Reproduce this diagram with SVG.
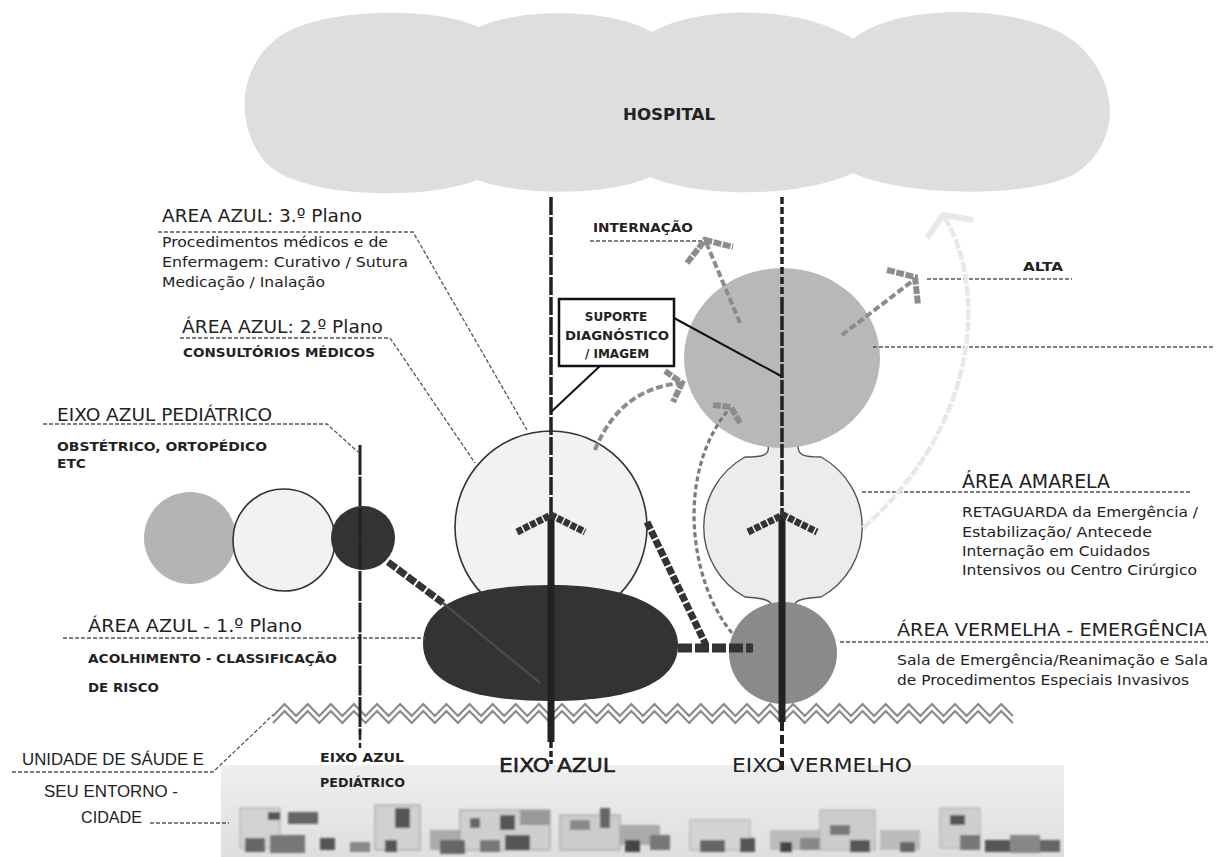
<svg xmlns="http://www.w3.org/2000/svg" width="1224" height="857" viewBox="0 0 1224 857">
<style>
.t{font-family:"DejaVu Sans","Liberation Sans",sans-serif;fill:#222}
.h{font-size:18px}
.s{font-size:13.5px}
.b{font-size:12px;font-weight:bold}
.nar{font-family:"Liberation Sans","DejaVu Sans",sans-serif;fill:#222;font-size:17px}
.lead{fill:none;stroke:#555;stroke-width:1.3;stroke-dasharray:4 2}
.axis{fill:none;stroke:#222}
.chev{fill:none;stroke:#333;stroke-width:7;stroke-dasharray:6 1.5;stroke-linejoin:miter}
.garr{fill:none;stroke:#8c8c8c;stroke-width:4;stroke-dasharray:7 3}
.ghead{fill:none;stroke:#8c8c8c;stroke-width:6;stroke-dasharray:8 1.5}
.zig{fill:none;stroke:#8a8a8a;stroke-width:2.2;stroke-linejoin:miter}
.bld{filter:url(#blur)}
</style>
<defs>
<filter id="blur" x="-10%" y="-10%" width="120%" height="120%"><feGaussianBlur stdDeviation="1.3"/></filter>
<linearGradient id="city" x1="0" y1="0" x2="0" y2="1"><stop offset="0" stop-color="#efefef"/><stop offset="1" stop-color="#dedede"/></linearGradient>
</defs>
<rect width="1224" height="857" fill="#fff"/>

<g id="hospital">
<path d="M479 27 C520 8 610 8 652 32 C700 5 800 5 853 39 C900 0 1030 5 1075 42 C1120 80 1122 140 1078 172 C1035 200 900 196 853 173 C800 198 700 198 650 177 C610 196 520 196 477 180 C430 200 300 200 265 162 C235 125 238 70 275 40 C312 8 430 5 479 27 Z" fill="#dedede"/>
<text class="t" x="623" y="120" font-size="16" font-weight="bold" textLength="92" lengthAdjust="spacingAndGlyphs">HOSPITAL</text>
</g>

<g id="city-strip">
<rect x="221" y="765" width="843" height="92" fill="url(#city)"/>
<g class="bld">
<rect x="240" y="808" width="40" height="40" fill="#d2d2d2" stroke="#aaa"/>
<rect x="268" y="812" width="12" height="8" fill="#555"/>
<rect x="288" y="812" width="30" height="12" fill="#666"/>
<rect x="245" y="838" width="20" height="14" fill="#666"/>
<rect x="270" y="835" width="35" height="18" fill="#777"/>
<rect x="320" y="838" width="15" height="12" fill="#555"/>
<rect x="350" y="842" width="20" height="10" fill="#888"/>
<rect x="375" y="805" width="45" height="45" fill="#d0d0d0" stroke="#999"/>
<rect x="395" y="808" width="15" height="20" fill="#555"/>
<rect x="385" y="840" width="12" height="12" fill="#555"/>
<rect x="430" y="830" width="30" height="20" fill="#aaa"/>
<rect x="460" y="810" width="90" height="40" fill="#cfcfcf" stroke="#999"/>
<rect x="470" y="818" width="10" height="10" fill="#666"/>
<rect x="500" y="815" width="15" height="15" fill="#555"/>
<rect x="520" y="810" width="30" height="15" fill="#999"/>
<rect x="440" y="840" width="25" height="14" fill="#666"/>
<rect x="480" y="840" width="20" height="12" fill="#777"/>
<rect x="505" y="835" width="25" height="15" fill="#555"/>
<rect x="560" y="815" width="60" height="35" fill="#ccc" stroke="#999"/>
<rect x="570" y="820" width="20" height="10" fill="#888"/>
<rect x="600" y="808" width="10" height="20" fill="#666"/>
<rect x="620" y="825" width="40" height="20" fill="#aaa"/>
<rect x="625" y="840" width="15" height="12" fill="#444"/>
<rect x="650" y="835" width="20" height="15" fill="#777"/>
<rect x="690" y="820" width="60" height="30" fill="#d4d4d4" stroke="#aaa"/>
<rect x="700" y="840" width="25" height="12" fill="#666"/>
<rect x="740" y="838" width="15" height="14" fill="#555"/>
<rect x="770" y="830" width="50" height="20" fill="#bbb"/>
<rect x="780" y="842" width="12" height="10" fill="#444"/>
<rect x="800" y="838" width="20" height="12" fill="#888"/>
<rect x="820" y="810" width="55" height="40" fill="#ccc" stroke="#aaa"/>
<rect x="830" y="825" width="20" height="10" fill="#777"/>
<rect x="850" y="840" width="20" height="12" fill="#555"/>
<rect x="880" y="830" width="40" height="20" fill="#bbb"/>
<rect x="900" y="842" width="15" height="10" fill="#666"/>
<rect x="940" y="808" width="40" height="40" fill="#cfcfcf" stroke="#aaa"/>
<rect x="950" y="815" width="15" height="10" fill="#555"/>
<rect x="960" y="835" width="20" height="15" fill="#777"/>
<rect x="985" y="840" width="25" height="12" fill="#555"/>
<rect x="1010" y="835" width="30" height="18" fill="#888"/>
<rect x="1040" y="840" width="20" height="12" fill="#666"/>
</g>
</g>

<g id="zigzag">
<path class="zig" d="M273 716 l11.56-12 11.56 12 11.56-12 11.56 12 11.56-12 11.56 12 11.56-12 11.56 12 11.56-12 11.56 12 11.56-12 11.56 12 11.56-12 11.56 12 11.56-12 11.56 12
11.56-12 11.56 12 11.56-12 11.56 12 11.56-12 11.56 12 11.56-12 11.56 12 11.56-12 11.56 12 11.56-12 11.56 12 11.56-12 11.56 12 11.56-12 11.56 12
11.56-12 11.56 12 11.56-12 11.56 12 11.56-12 11.56 12 11.56-12 11.56 12 11.56-12 11.56 12 11.56-12 11.56 12 11.56-12 11.56 12 11.56-12 11.56 12
11.56-12 11.56 12 11.56-12 11.56 12 11.56-12 11.56 12 11.56-12 11.56 12 11.56-12 11.56 12 11.56-12 11.56 12 11.56-12 11.56 12 11.56-12 11.56 12"/>
<path class="zig" d="M273 723 l11.56-12 11.56 12 11.56-12 11.56 12 11.56-12 11.56 12 11.56-12 11.56 12 11.56-12 11.56 12 11.56-12 11.56 12 11.56-12 11.56 12 11.56-12 11.56 12
11.56-12 11.56 12 11.56-12 11.56 12 11.56-12 11.56 12 11.56-12 11.56 12 11.56-12 11.56 12 11.56-12 11.56 12 11.56-12 11.56 12 11.56-12 11.56 12
11.56-12 11.56 12 11.56-12 11.56 12 11.56-12 11.56 12 11.56-12 11.56 12 11.56-12 11.56 12 11.56-12 11.56 12 11.56-12 11.56 12 11.56-12 11.56 12
11.56-12 11.56 12 11.56-12 11.56 12 11.56-12 11.56 12 11.56-12 11.56 12 11.56-12 11.56 12 11.56-12 11.56 12 11.56-12 11.56 12 11.56-12 11.56 12"/>
</g>

<g id="ped-gray"><circle cx="190" cy="538" r="46" fill="#b4b4b4"/></g>
<g id="ped-light"><circle cx="284" cy="540" r="51" fill="#f2f2f2" stroke="#333" stroke-width="1.6"/></g>
<g id="ped-dark"><circle cx="363" cy="538" r="32" fill="#333"/></g>

<g id="area-amarela">
<path d="M768 446 C770 455 763 457 745 457 A80 80 0 0 0 745 597 C763 598 770 600 771 604 L795 604 C796 600 803 598 821 597 A80 80 0 0 0 821 457 C803 457 798 455 798 446 Z" fill="#ececec" stroke="#555" stroke-width="1.4"/>
</g>
<g id="area-internacao"><ellipse cx="782" cy="358" rx="98" ry="90" fill="#b8b8b8"/></g>
<g id="area-vermelha"><ellipse cx="783" cy="653" rx="54" ry="51" fill="#8a8a8a"/></g>
<g id="area-azul-2"><circle cx="551" cy="527" r="96" fill="#f2f2f2" stroke="#333" stroke-width="1.6"/></g>
<g id="area-azul-1">
<path d="M550 585 C642 585 678 615 678 645 C678 678 642 701 550 701 C458 701 423 678 423 643 C423 610 458 585 550 585 Z" fill="#333"/>
</g>

<g id="connectors">
<path class="lead" d="M158 232 H413 L527 430"/>
<path class="lead" d="M180 338 H390 L475 463"/>
<path class="lead" d="M43 424 H327 L358 452"/>
<path class="lead" d="M63 638 H426"/>
<path class="lead" d="M590 241 H705"/>
<path class="lead" d="M927 279 H1072"/>
<path class="lead" d="M873 347 H1213"/>
<path class="lead" d="M862 492 H1192"/>
<path class="lead" d="M840 642 H1208"/>
<path class="lead" d="M12 772 H213 L273 715"/>
<path class="lead" d="M150 823 H229"/>

<path d="M863 528 C985 420 985 280 943 215" fill="none" stroke="#e8e8e8" stroke-width="4.5" stroke-dasharray="10 2"/>
<path d="M927 238 L943 215 L973 220" fill="none" stroke="#e8e8e8" stroke-width="6"/>

<path class="garr" d="M595 450 Q620 388 682 383"/>
<path class="ghead" d="M665 371 L682 383 L673 402"/>
<path class="garr" d="M740 323 L706 242"/>
<path class="ghead" d="M687 263 L705 240 L733 247"/>
<path class="garr" d="M842 335 L915 279"/>
<path class="ghead" d="M887 270 L915 277 L918 305"/>
<path d="M732 633 C688 580 676 470 730 408" fill="none" stroke="#7a7a7a" stroke-width="3.2" stroke-dasharray="5 3"/>
<path class="ghead" d="M713 405 L731 407 L740 423"/>

<path d="M388 562 L443 603" fill="none" stroke="#333" stroke-width="7" stroke-dasharray="10 2"/>
<path d="M443 603 L540 683" fill="none" stroke="#4a4a4a" stroke-width="2.5"/>
<path d="M647 522 L706 645" fill="none" stroke="#333" stroke-width="7" stroke-dasharray="8 2"/>
<path d="M678 648 L753 648" fill="none" stroke="#333" stroke-width="9" stroke-dasharray="14 3"/>

<line class="axis" x1="551" y1="197" x2="551" y2="515" stroke-width="3.5" stroke-dasharray="18 2"/>
<line class="axis" x1="551" y1="515" x2="551" y2="742" stroke="#333" stroke-width="7"/>
<line class="axis" x1="551" y1="742" x2="551" y2="764" stroke-width="3.5" stroke-dasharray="6 3"/>
<line class="axis" x1="782" y1="197" x2="782" y2="300" stroke-width="3.5" stroke-dasharray="7 3"/>
<line class="axis" x1="782" y1="300" x2="782" y2="515" stroke-width="3.5" stroke-dasharray="14 2"/>
<line class="axis" x1="782" y1="515" x2="782" y2="722" stroke="#333" stroke-width="7"/>
<line class="axis" x1="782" y1="722" x2="782" y2="770" stroke-width="4" stroke-dasharray="9 4"/>
<line class="axis" x1="360" y1="445" x2="360" y2="735" stroke-width="3" stroke-dasharray="30 1.5"/>
<line class="axis" x1="360" y1="735" x2="360" y2="750" stroke-width="2.5" stroke-dasharray="5 3"/>
<path class="chev" d="M517 532 L551 515 L585 532"/>
<path class="chev" d="M748 532 L783 515 L817 532"/>

<path d="M600 366 L551 412" fill="none" stroke="#111" stroke-width="2"/>
<path d="M674 318 L781 376" fill="none" stroke="#111" stroke-width="2"/>
</g>

<g id="suporte">
<rect x="559" y="299" width="115" height="67" fill="#fff" stroke="#111" stroke-width="2.5"/>
<text class="t b" x="616" y="321" text-anchor="middle">SUPORTE</text>
<text class="t b" x="617" y="340" text-anchor="middle" textLength="104" lengthAdjust="spacingAndGlyphs">DIAGNÓSTICO</text>
<text class="t b" x="617" y="358" text-anchor="middle">/ IMAGEM</text>
</g>

<g id="labels">
<text class="t h" x="162" y="222" textLength="200" lengthAdjust="spacingAndGlyphs">AREA AZUL: 3.º Plano</text>
<text class="t s" x="162" y="247" textLength="226" lengthAdjust="spacingAndGlyphs">Procedimentos médicos e de</text>
<text class="t s" x="162" y="267" textLength="246" lengthAdjust="spacingAndGlyphs">Enfermagem: Curativo / Sutura</text>
<text class="t s" x="162" y="287" textLength="163" lengthAdjust="spacingAndGlyphs">Medicação / Inalação</text>
<text class="t h" x="182" y="333" textLength="201" lengthAdjust="spacingAndGlyphs">ÁREA AZUL: 2.º Plano</text>
<text class="t b" x="183" y="357" textLength="192" lengthAdjust="spacingAndGlyphs">CONSULTÓRIOS MÉDICOS</text>
<text class="t h" x="57" y="421" textLength="215" lengthAdjust="spacingAndGlyphs">EIXO AZUL PEDIÁTRICO</text>
<text class="t b" x="57" y="451" textLength="210" lengthAdjust="spacingAndGlyphs">OBSTÉTRICO, ORTOPÉDICO</text>
<text class="t b" x="57" y="468" textLength="29" lengthAdjust="spacingAndGlyphs">ETC</text>
<text class="t h" x="88" y="632" textLength="214" lengthAdjust="spacingAndGlyphs">ÁREA AZUL - 1.º Plano</text>
<text class="t b" x="88" y="663" textLength="249" lengthAdjust="spacingAndGlyphs">ACOLHIMENTO - CLASSIFICAÇÃO</text>
<text class="t b" x="88" y="692" textLength="71" lengthAdjust="spacingAndGlyphs">DE RISCO</text>
<text class="t b" x="593" y="232" textLength="100" lengthAdjust="spacingAndGlyphs">INTERNAÇÃO</text>
<text class="t b" x="1023" y="271" textLength="40" lengthAdjust="spacingAndGlyphs">ALTA</text>
<text class="t" x="962" y="488" font-size="19" textLength="148" lengthAdjust="spacingAndGlyphs">ÁREA AMARELA</text>
<text class="t s" x="962" y="517" textLength="236" lengthAdjust="spacingAndGlyphs">RETAGUARDA da Emergência /</text>
<text class="t s" x="962" y="537" textLength="190" lengthAdjust="spacingAndGlyphs">Estabilização/ Antecede</text>
<text class="t s" x="962" y="556" textLength="188" lengthAdjust="spacingAndGlyphs">Internação em Cuidados</text>
<text class="t s" x="962" y="575" textLength="235" lengthAdjust="spacingAndGlyphs">Intensivos ou Centro Cirúrgico</text>
<text class="t" x="897" y="636" font-size="18.5" textLength="310" lengthAdjust="spacingAndGlyphs">ÁREA VERMELHA - EMERGÊNCIA</text>
<text class="t s" x="897" y="665" textLength="311" lengthAdjust="spacingAndGlyphs">Sala de Emergência/Reanimação e Sala</text>
<text class="t s" x="897" y="685" textLength="292" lengthAdjust="spacingAndGlyphs">de Procedimentos Especiais Invasivos</text>
<text class="nar" x="22" y="765" textLength="182" lengthAdjust="spacingAndGlyphs">UNIDADE DE SÁUDE E</text>
<text class="nar" x="44" y="797" textLength="134" lengthAdjust="spacingAndGlyphs">SEU ENTORNO -</text>
<text class="nar" x="81" y="823" textLength="61" lengthAdjust="spacingAndGlyphs">CIDADE</text>
<text class="t b" x="320" y="762" textLength="84" lengthAdjust="spacingAndGlyphs">EIXO AZUL</text>
<text class="t b" x="320" y="787" textLength="85" lengthAdjust="spacingAndGlyphs">PEDIÁTRICO</text>
<text class="t" x="499" y="772" font-size="20" fill="#111" stroke="#111" stroke-width="0.5" textLength="116" lengthAdjust="spacingAndGlyphs">EIXO AZUL</text>
<text class="t" x="732" y="772" font-size="20" textLength="180" lengthAdjust="spacingAndGlyphs">EIXO VERMELHO</text>
</g>
</svg>
